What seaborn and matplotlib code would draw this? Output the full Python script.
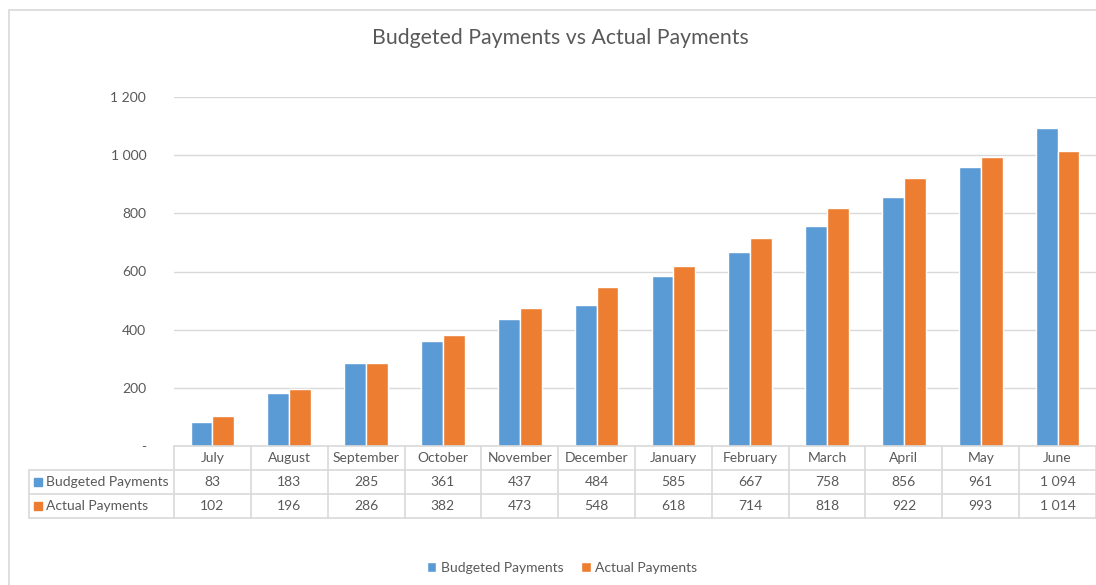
import numpy as np
import pandas as pd
import matplotlib
matplotlib.use("Agg")
import matplotlib.pyplot as plt
from matplotlib.patches import Rectangle, Patch
import seaborn as sns

months = ["July", "August", "September", "October", "November", "December",
          "January", "February", "March", "April", "May", "June"]
series_names = ["Budgeted Payments", "Actual Payments"]
budgeted = [83, 183, 285, 361, 437, 484, 585, 667, 758, 856, 961, 1094]
actual = [102, 196, 286, 382, 473, 548, 618, 714, 818, 922, 993, 1014]
y_ticks = [0, 200, 400, 600, 800, 1000, 1200]

colors = ["#5B9BD5", "#ED7D31"]
text_col = "#595959"
line_col = "#d9d9d9"


def fmt(v):
    # excel style: space as thousands separator, dash for zero
    if v == 0:
        return "-"
    return f"{v:,.0f}".replace(",", " ")


df = pd.DataFrame({
    "month": months * 2,
    "series": [series_names[0]] * len(months) + [series_names[1]] * len(months),
    "value": budgeted + actual,
})

sns.set_style("white")
plt.rcParams["font.family"] = ["Lato", "DejaVu Sans"]

W, H = 1096, 585
fig = plt.figure(figsize=(W / 100, H / 100), dpi=100)

# outer chart border (runs off the right and bottom edges)
fig.patches.append(Rectangle((9 / W, -0.2), 1.2, 1.2 - 10 / H, transform=fig.transFigure,
                             fill=False, ec=line_col, lw=1.2))

left_px, right_px, top_px, base_px = 174, 1096, 97, 446
ax = fig.add_axes([left_px / W, 1 - base_px / H, (right_px - left_px) / W, (base_px - top_px) / H])
sns.barplot(data=df, x="month", y="value", hue="series", palette=colors, width=0.57,
            saturation=1, legend=False, ax=ax, order=months, hue_order=series_names)
ax.set_xlim(-0.5, len(months) - 0.5)
ax.set_ylim(0, 1200)
ax.set_yticks(y_ticks)
ax.set_yticklabels([fmt(v) for v in y_ticks], color=text_col, fontsize=10)
ax.tick_params(axis="y", length=0, pad=20)
ax.set_xticks([])
ax.set_xlabel("")
ax.set_ylabel("")
for v in y_ticks[1:]:
    ax.axhline(v, color=line_col, lw=1, zorder=0)
for s in ax.spines.values():
    s.set_visible(False)

# data table under the axis
row_h = 24
tab = fig.add_axes([left_px / W, 1 - (base_px + 3 * row_h) / H,
                    (right_px - left_px) / W, 3 * row_h / H])
tab.set_xlim(-0.5, len(months) - 0.5)
tab.set_ylim(0, 3)
tab.axis("off")
cat_w = (right_px - left_px) / len(months)
lab_left = -0.5 - (left_px - 29) / cat_w
tab.plot([-0.5, len(months) - 0.5], [3, 3], color=line_col, lw=1.2, clip_on=False)
for y in [2, 1, 0]:
    tab.plot([lab_left, len(months) - 0.5], [y, y], color=line_col, lw=1.2, clip_on=False)
for i in range(len(months) + 1):
    tab.plot([i - 0.5, i - 0.5], [0, 3], color=line_col, lw=1.2, clip_on=False)
tab.plot([lab_left, lab_left], [0, 2], color=line_col, lw=1.2, clip_on=False)

for i, m in enumerate(months):
    tab.text(i, 2.5, m, ha="center", va="center", color=text_col, fontsize=10)
    tab.text(i, 1.5, fmt(budgeted[i]), ha="center", va="center", color=text_col, fontsize=10)
    tab.text(i, 0.5, fmt(actual[i]), ha="center", va="center", color=text_col, fontsize=10)

sq = 8 / cat_w
for r, (name, c) in enumerate(zip(series_names, colors)):
    yc = 1.5 - r
    tab.add_patch(Rectangle((lab_left + 5 / cat_w, yc - 0.17), sq, 0.34, color=c, clip_on=False))
    tab.text(lab_left + 17 / cat_w, yc, name, ha="left", va="center", color=text_col,
             fontsize=10, clip_on=False)

fig.text(560 / W, 1 - 38 / H, "Budgeted Payments vs Actual Payments", ha="center", va="center",
         color=text_col, fontsize=15.3)

handles = [Patch(facecolor=c, label=n) for n, c in zip(series_names, colors)]
fig.legend(handles=handles, loc="center", bbox_to_anchor=(562 / W, 1 - 568 / H), ncol=2,
           frameon=False, fontsize=10, labelcolor=text_col, handlelength=0.7, handleheight=0.7,
           handletextpad=0.3, columnspacing=1.3)

fig.savefig("out.png", dpi=100)
